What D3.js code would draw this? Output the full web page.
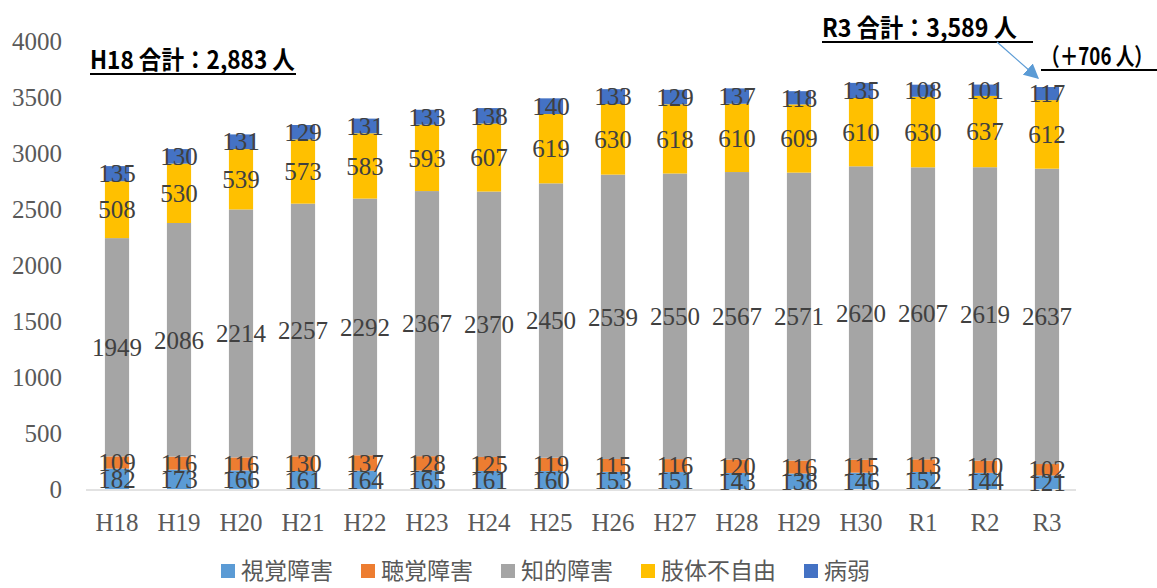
<!DOCTYPE html>
<html>
<head>
<meta charset="utf-8">
<script src="https://cdn.jsdelivr.net/npm/d3@7"></script>
<style>
  body { margin: 0; background: #fff; }
  svg { display: block; }
</style>
</head>
<body>
<svg id="chart" width="1157" height="588"></svg>
<script>
const years = ['H18', 'H19', 'H20', 'H21', 'H22', 'H23', 'H24', 'H25', 'H26', 'H27', 'H28', 'H29', 'H30', 'R1', 'R2', 'R3'];
const seriesNames = ['視覚障害', '聴覚障害', '知的障害', '肢体不自由', '病弱'];
const visual = [182, 173, 166, 161, 164, 165, 161, 160, 153, 151, 143, 138, 146, 152, 144, 121];
const hearing = [109, 116, 116, 130, 137, 128, 125, 119, 115, 116, 120, 116, 115, 113, 110, 102];
const intellectual = [1949, 2086, 2214, 2257, 2292, 2367, 2370, 2450, 2539, 2550, 2567, 2571, 2620, 2607, 2619, 2637];
const physical = [508, 530, 539, 573, 583, 593, 607, 619, 630, 618, 610, 609, 610, 630, 637, 612];
const sick = [135, 130, 131, 129, 131, 133, 138, 140, 133, 129, 137, 118, 135, 108, 101, 117];
const yTicks = [0, 500, 1000, 1500, 2000, 2500, 3000, 3500, 4000];
const noteStart = 'H18 合計：2,883 人';
const noteEnd = 'R3 合計：3,589 人';
const noteDiff = '（＋706 人）';

const colors = ['#5B9BD5', '#ED7D31', '#A5A5A5', '#FFC000', '#4472C4'];

const svg = d3.select('#chart');
const numFont = '"Liberation Serif", "Times New Roman", serif';
const jpFont = '"Noto Sans CJK JP", sans-serif';

const rows = years.map((y, i) => ({
  year: y,
  '視覚障害': visual[i],
  '聴覚障害': hearing[i],
  '知的障害': intellectual[i],
  '肢体不自由': physical[i],
  '病弱': sick[i]
}));

const stack = d3.stack().keys(seriesNames)(rows);

const x = d3.scaleBand()
  .domain(years)
  .range([86, 1078])
  .paddingInner(0.61)
  .paddingOuter(0.305);

const y = d3.scaleLinear()
  .domain([0, 4000])
  .range([489, 41]);

const color = d3.scaleOrdinal().domain(seriesNames).range(colors);

// y軸ラベル
svg.append('g')
  .selectAll('text')
  .data(yTicks)
  .join('text')
  .attr('x', 62)
  .attr('y', d => y(d))
  .attr('dy', '0.35em')
  .attr('text-anchor', 'end')
  .attr('font-family', numFont)
  .attr('font-size', 25)
  .attr('fill', '#595959')
  .text(d => d);

// 棒
const layers = svg.append('g')
  .selectAll('g')
  .data(stack)
  .join('g')
  .attr('fill', d => color(d.key));

layers.selectAll('rect')
  .data(d => d)
  .join('rect')
  .attr('x', d => x(d.data.year))
  .attr('width', x.bandwidth())
  .attr('y', d => y(d[1]))
  .attr('height', d => y(d[0]) - y(d[1]));

// x軸
svg.append('line')
  .attr('x1', 86).attr('x2', 1076)
  .attr('y1', y(0) + 1).attr('y2', y(0) + 1)
  .attr('stroke', '#D9D9D9')
  .attr('stroke-width', 1.5);

svg.append('g')
  .selectAll('text')
  .data(years)
  .join('text')
  .attr('x', d => x(d) + x.bandwidth() / 2)
  .attr('y', 522)
  .attr('dy', '0.35em')
  .attr('text-anchor', 'middle')
  .attr('font-family', numFont)
  .attr('font-size', 25)
  .attr('fill', '#595959')
  .text(d => d);

// データラベル
stack.forEach(layer => {
  svg.append('g')
    .selectAll('text')
    .data(layer)
    .join('text')
    .attr('x', d => x(d.data.year) + x.bandwidth() / 2)
    .attr('y', d => (y(d[0]) + y(d[1])) / 2)
    .attr('dy', '0.35em')
    .attr('text-anchor', 'middle')
    .attr('font-family', numFont)
    .attr('font-size', 25)
    .attr('fill', '#404040')
    .text(d => d.data[layer.key]);
});

// 凡例
const legend = svg.append('g').attr('transform', 'translate(221,570)');
let lx = 0;
seriesNames.forEach((name, i) => {
  const item = legend.append('g').attr('transform', `translate(${lx},0)`);
  item.append('rect')
    .attr('x', 0).attr('y', -6)
    .attr('width', 14).attr('height', 14)
    .attr('fill', colors[i]);
  const t = item.append('text')
    .attr('x', 20)
    .attr('dy', '0.38em')
    .attr('font-family', jpFont)
    .attr('font-size', 23)
    .attr('fill', '#595959')
    .text(name);
  lx += 20 + t.node().getComputedTextLength() + 28;
});

// 注記（横方向に縮めて幅を合わせる）
function note(txt, x0, base, size, len, lineEnd, lineY) {
  const g = svg.append('g');
  const t = g.append('text')
    .attr('font-family', jpFont)
    .attr('font-weight', 'bold')
    .attr('font-size', size)
    .attr('fill', '#000')
    .text(txt);
  const s = len / t.node().getComputedTextLength();
  g.attr('transform', `translate(${x0},${base}) scale(${s},1)`);
  svg.append('line')
    .attr('x1', x0).attr('x2', lineEnd)
    .attr('y1', lineY).attr('y2', lineY)
    .attr('stroke', '#000')
    .attr('stroke-width', 2);
}

note(noteStart, 90, 69, 25, 205, 296, 74);
note(noteEnd, 822, 37, 25, 195, 1033, 42);
note(noteDiff, 1041, 65, 24, 112, 1157, 70);

// 矢印
const last = years.length - 1;
const total = visual[last] + hearing[last] + intellectual[last] + physical[last] + sick[last];
const tipX = x(years[last]) + 3;
const tipY = y(total) - 9;

svg.append('defs').append('marker')
  .attr('id', 'head')
  .attr('viewBox', '0 0 10 10')
  .attr('refX', 9).attr('refY', 5)
  .attr('markerWidth', 15).attr('markerHeight', 15)
  .attr('markerUnits', 'userSpaceOnUse')
  .attr('orient', 'auto')
  .append('path')
  .attr('d', 'M0,0 L10,5 L0,10 Z')
  .attr('fill', '#5B9BD5');

svg.append('line')
  .attr('x1', 997).attr('y1', 42)
  .attr('x2', tipX).attr('y2', tipY)
  .attr('stroke', '#5B9BD5')
  .attr('stroke-width', 1.2)
  .attr('marker-end', 'url(#head)');
</script>
</body>
</html>
